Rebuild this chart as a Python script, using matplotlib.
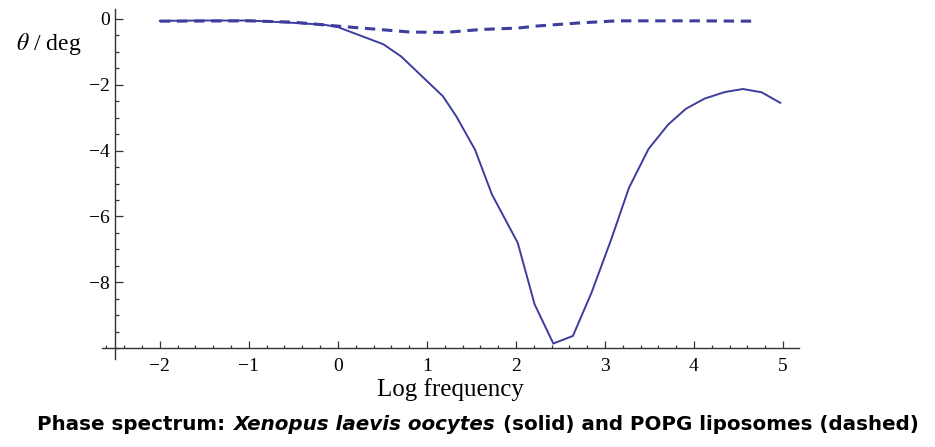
import numpy as np
import matplotlib
matplotlib.use("Agg")
import matplotlib.pyplot as plt
from matplotlib.ticker import MultipleLocator, FixedLocator, FixedFormatter
from matplotlib.offsetbox import TextArea, HPacker, AnchoredOffsetbox

# solid curve: Xenopus laevis oocytes
solid_x = [-2.0, -1.5, -1.0, -0.5, -0.15, 0.0, 0.51, 0.71, 1.18, 1.33, 1.54, 1.73,
           2.02, 2.21, 2.42, 2.64, 2.85, 3.07, 3.27, 3.49, 3.71, 3.91, 4.12,
           4.35, 4.55, 4.76, 4.97]
solid_y = [-0.06, -0.05, -0.05, -0.12, -0.18, -0.25, -0.77, -1.14, -2.35, -2.96,
           -3.97, -5.33, -6.8, -8.67, -9.86, -9.63, -8.31, -6.7, -5.13, -3.95,
           -3.21, -2.73, -2.42, -2.22, -2.13, -2.23, -2.55]

# dashed curve: POPG liposomes
dashed_x = [-2.0, -1.0, -0.5, 0.0, 0.5, 0.81, 1.21, 1.62, 2.02, 2.22, 2.73, 3.13,
            3.54, 4.04, 4.69]
dashed_y = [-0.07, -0.06, -0.1, -0.22, -0.33, -0.4, -0.41, -0.32, -0.28, -0.22,
            -0.12, -0.06, -0.06, -0.06, -0.07]

xticks = [-2, -1, 0, 1, 2, 3, 4, 5]
xtick_labels = ["\u22122", "\u22121", "0", "1", "2", "3", "4", "5"]
yticks = [0, -2, -4, -6, -8]
ytick_labels = ["0", "\u22122", "\u22124", "\u22126", "\u22128"]

LINE_COLOR = "#3d3d9e"
W, H = 935, 447

plt.rcParams["font.family"] = ["Liberation Serif", "DejaVu Serif"]
plt.rcParams["mathtext.fontset"] = "stix"

fig = plt.figure(figsize=(W / 100, H / 100), dpi=100)
ax = fig.add_axes([102 / W, 1 - 359 / H, (799 - 102) / W, (359 - 9) / H])

ax.plot(solid_x, solid_y, color=LINE_COLOR, lw=1.4, solid_joinstyle="miter")
ax.plot(dashed_x, dashed_y, color=LINE_COLOR, lw=2.2, dashes=(3.4, 2.2))

ax.set_xlim(-2.65, 5.18)
ax.set_ylim(-10.33, 0.3)

for side in ("top", "right"):
    ax.spines[side].set_visible(False)
ax.spines["left"].set_position(("data", -2.5))
ax.spines["bottom"].set_position(("data", -10))
for side in ("left", "bottom"):
    ax.spines[side].set_color("#333333")
    ax.spines[side].set_linewidth(1.0)

ax.xaxis.set_major_locator(FixedLocator(xticks))
ax.xaxis.set_major_formatter(FixedFormatter(xtick_labels))
ax.xaxis.set_minor_locator(MultipleLocator(0.2))
ax.yaxis.set_major_locator(FixedLocator(yticks))
ax.yaxis.set_major_formatter(FixedFormatter(ytick_labels))
ax.yaxis.set_minor_locator(MultipleLocator(0.5))

ax.tick_params(which="both", direction="in", color="#333333", width=0.9, labelsize=14)
ax.tick_params(axis="x", which="major", length=5, pad=7)
ax.tick_params(axis="x", which="minor", length=2.5)
ax.tick_params(axis="y", which="major", length=5.5, pad=4)
ax.tick_params(axis="y", which="minor", length=3)

ax.set_xlabel("Log frequency", fontsize=18, labelpad=2)
fig.text(16 / W, 1 - 44 / H, r"$\theta$ / deg", fontsize=17, ha="left", va="center")

# caption below the chart, mixed upright / italic bold
cap_font = dict(fontsize=14.3, fontweight="bold", family="DejaVu Sans")
parts = [
    TextArea("Phase spectrum:", textprops=cap_font),
    TextArea("Xenopus laevis oocytes", textprops=dict(cap_font, fontstyle="italic")),
    TextArea("(solid) and POPG liposomes (dashed)", textprops=cap_font),
]
caption = HPacker(children=parts, align="baseline", pad=0, sep=5.5)
anchored = AnchoredOffsetbox(loc="center", child=caption, frameon=False,
                             bbox_to_anchor=(478 / W, 1 - 425 / H),
                             bbox_transform=fig.transFigure, borderpad=0)
fig.add_artist(anchored)

fig.savefig("out.png", dpi=100)
